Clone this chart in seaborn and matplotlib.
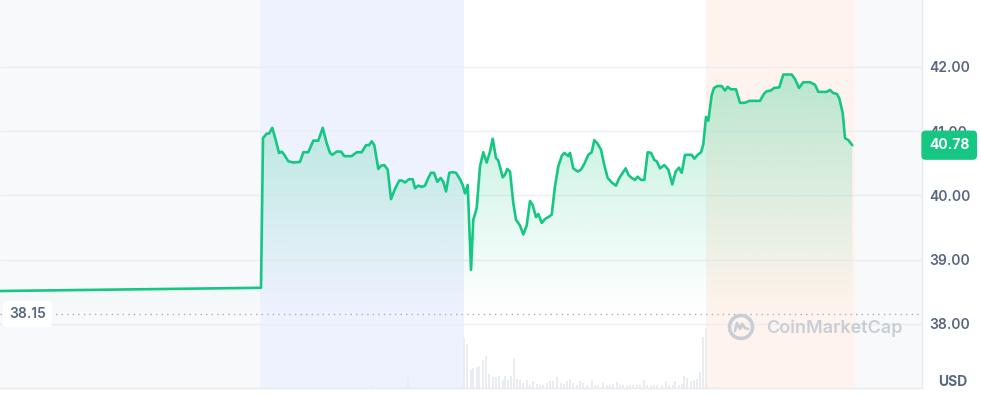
import numpy as np
import matplotlib
matplotlib.use("Agg")
import matplotlib.pyplot as plt
import matplotlib.colors as mcolors
import matplotlib.transforms as mtransforms
from matplotlib.patches import Circle
from matplotlib.lines import Line2D
import seaborn as sns

# ---------------- data ----------------
t = [0, 261, 263, 266.7, 269, 272.3, 275.7, 279, 281.7, 284.3,
     288.3, 293.3, 300, 303.3, 308.3, 313.3, 318.3, 322.7, 326.7, 330,
     332.3, 336.7, 341, 344.3, 351.7, 356.7, 361.7, 366, 369, 371.7,
     374.3, 378.3, 381, 384.3, 387.7, 391, 395, 399.3, 401.7, 405,
     409, 412.7, 415, 418.3, 421.7, 425, 428.3, 431, 434, 437.3,
     440.7, 443.3, 446, 449.3, 452.7, 456, 460, 462.7, 465, 467.7,
     471, 473.3, 476.7, 480, 483.3, 486.7, 490, 492.7, 496, 498.3,
     502.7, 505, 507.3, 510, 513.3, 516, 520, 523.3, 526.7, 530,
     532.7, 536, 538.3, 541.7, 545, 549.3, 551.7, 555, 558.3, 561.7,
     564.3, 566.7, 568.3, 570, 573.3, 577.7, 581, 584.3, 588.3, 591.7,
     594.3, 597.7, 601, 604.3, 607.7, 611.7, 616, 619.3, 622.7, 625.7,
     628.3, 631.7, 635, 637.7, 641, 644.3, 647.7, 651, 654.3, 656.7,
     660, 664.3, 668.3, 672.3, 675.7, 679, 681.7, 685, 689, 691.7,
     694.3, 697.7, 701, 703.3, 706, 708.3, 711.7, 714, 717.3, 721.7,
     725, 727.7, 730.7, 736, 740, 745, 749.3, 760, 764, 766.7,
     770.7, 774, 779.3, 783.3, 791.7, 795, 799, 803.3, 810, 815,
     818.3, 826.7, 830, 833.3, 836.7, 839.3, 842.7, 845, 848.3, 852.3]

price = [38.51, 38.56, 40.89, 40.96, 40.96, 41.05, 40.86, 40.66, 40.68, 40.63,
         40.53, 40.51, 40.52, 40.67, 40.67, 40.85, 40.85, 41.05, 40.81, 40.66,
         40.63, 40.68, 40.68, 40.61, 40.61, 40.67, 40.67, 40.78, 40.78, 40.84,
         40.78, 40.41, 40.46, 40.47, 40.40, 39.94, 40.10, 40.23, 40.23, 40.20,
         40.25, 40.25, 40.11, 40.15, 40.13, 40.15, 40.27, 40.35, 40.35, 40.21,
         40.27, 40.21, 40.06, 40.35, 40.36, 40.35, 40.25, 40.16, 40.03, 40.16,
         38.84, 39.62, 39.80, 40.45, 40.67, 40.51, 40.68, 40.88, 40.58, 40.54,
         40.28, 40.32, 40.41, 40.37, 39.88, 39.62, 39.53, 39.39, 39.53, 39.91,
         39.85, 39.66, 39.71, 39.57, 39.63, 39.67, 39.70, 40.14, 40.45, 40.61,
         40.66, 40.63, 40.61, 40.66, 40.42, 40.37, 40.40, 40.49, 40.63, 40.67,
         40.86, 40.80, 40.71, 40.47, 40.27, 40.20, 40.15, 40.27, 40.35, 40.42,
         40.32, 40.27, 40.24, 40.29, 40.24, 40.24, 40.67, 40.66, 40.55, 40.53,
         40.42, 40.47, 40.40, 40.17, 40.37, 40.43, 40.35, 40.63, 40.63, 40.63,
         40.57, 40.63, 40.67, 40.79, 41.22, 41.16, 41.56, 41.67, 41.70, 41.70,
         41.63, 41.69, 41.65, 41.65, 41.44, 41.44, 41.47, 41.47, 41.58, 41.62,
         41.63, 41.67, 41.68, 41.88, 41.88, 41.81, 41.67, 41.76, 41.76, 41.72,
         41.61, 41.61, 41.64, 41.59, 41.58, 41.51, 41.28, 40.89, 40.86, 40.78]

vol_t = [372, 408, 440,
         464, 467.3, 470.7, 473.3, 476.7, 479.3, 482.7, 486, 489.3, 492.7,
         496, 499.3, 502.7, 505.3, 508.3, 511, 514, 516.7, 520, 523.3,
         526.7, 530, 533.3, 536.7, 540, 543.3, 546.7, 550, 553.3, 557.3,
         560.7, 564, 566.7, 570, 573.3, 576.7, 580, 583.3, 586.7, 591.7,
         595, 598.3, 603.3, 606.7, 610, 613.3, 616.7, 620, 623.3, 626.7,
         630, 633.3, 636.7, 640, 644, 647.3, 650.7, 654, 657.3, 661.7,
         666, 669.3, 672.7, 675.3, 678.7, 681.7, 684.3, 687.3, 690.7, 694,
         697.3, 700, 702.7, 706]
volume = [2, 10, 2,
          50, 44, 18, 20, 21, 22, 28, 32, 14, 11,
          11, 12, 8, 12, 8, 12, 30, 9, 8, 5,
          8, 3, 7, 4, 3, 3, 5, 7, 7, 11,
          5, 4, 7, 9, 5, 3, 7, 5, 3, 8,
          3, 3, 6, 3, 3, 4, 6, 3, 3, 3,
          3, 3, 3, 3, 8, 3, 3, 3, 3, 3,
          7, 3, 3, 7, 3, 4, 12, 10, 7, 8,
          9, 16, 51, 60]

session_edges = [0, 260, 464, 706, 855, 922]
session_colors = ["#f8f9fb", "#eef2fe", "#ffffff", "#fff4ed", "#f8f9fb"]
yticks = [38, 39, 40, 41, 42]
ytick_labels = ["38.00", "39.00", "40.00", "41.00", "42.00"]
last_price = 40.78
ref_price = 38.15
unit_label = "USD"
watermark = "CoinMarketCap"

# ---------------- style ----------------
sns.set_theme(style="white")
plt.rcParams["font.family"] = ["Inter", "DejaVu Sans"]

GREEN = "#16c784"
LABEL = "#58667e"

W, H = 981, 395
fig = plt.figure(figsize=(W / 100, H / 100), dpi=100)
rect = [0, 1 - 388 / H, 922 / W, 388 / H]

# volume / session background axes
ax_vol = fig.add_axes(rect)
ax_vol.set_axis_off()
for i, c in enumerate(session_colors):
    ax_vol.axvspan(session_edges[i], session_edges[i + 1], color=c, lw=0, zorder=0)
ax_vol.bar(vol_t, volume, width=2.3, color="#e9ecf0", lw=0, zorder=1)
ax_vol.set_xlim(0, 922)
ax_vol.set_ylim(0, 388)

# price axes
ax = fig.add_axes(rect, sharex=ax_vol)
ax.patch.set_alpha(0)
ymin, ymax = 37.0, 43.04

for yv in yticks:
    ax.axhline(yv, color="#eceef2", lw=1, zorder=1)

# gradient fill under the line (fades out just above the reference line)
top = max(price)
fade_bottom = 38.1
n = 256
grad = np.zeros((n, 1, 4))
grad[..., :3] = mcolors.to_rgb(GREEN)
grad[:, 0, 3] = 0.30 * np.linspace(0, 1, n) ** 1.1
im = ax.imshow(grad, aspect="auto", extent=[0, 922, fade_bottom, top],
               origin="lower", zorder=2, interpolation="bilinear")
poly = ax.fill_between(t, price, ymin, facecolor="none", edgecolor="none")
im.set_clip_path(poly.get_paths()[0], transform=ax.transData)

sns.lineplot(x=t, y=price, ax=ax, color=GREEN, lw=1.9, sort=False,
             estimator=None, zorder=5)

# reference dotted line
ax.axhline(ref_price, color="#a6acbb", lw=1.0, ls=(0, (1, 3)), zorder=4)
blend = mtransforms.blended_transform_factory(ax.transAxes, ax.transData)
ax.text(9 / 922, ref_price, f"{ref_price:.2f}", transform=blend, ha="left",
        va="center", fontsize=10, fontweight="semibold", color=LABEL, zorder=6,
        bbox=dict(boxstyle="round,pad=0.45,rounding_size=0.35", fc="white",
                  ec="none"))

ax.set_xlim(0, 922)
ax.set_ylim(ymin, ymax)
ax.set_xticks([])
ax.set_xlabel("")
ax.set_ylabel("")
ax.yaxis.tick_right()
ax.set_yticks(yticks)
ax.set_yticklabels(ytick_labels)
ax.tick_params(axis="y", length=0, pad=5, labelsize=10, labelcolor=LABEL)
for lab in ax.get_yticklabels():
    lab.set_fontweight("semibold")
for s in ["top", "left"]:
    ax.spines[s].set_visible(False)
for s in ["right", "bottom"]:
    ax.spines[s].set_color("#e8eaee")
    ax.spines[s].set_linewidth(1)

# last price badge
ax.text(929 / 922, last_price, f"{last_price:.2f}", transform=blend,
        ha="left", va="center", fontsize=10, fontweight="bold", color="white",
        zorder=20, clip_on=False,
        bbox=dict(boxstyle="round,pad=0.55,rounding_size=0.3", fc=GREEN,
                  ec="none"))

# unit label
fig.text(967 / W, 1 - 382 / H, unit_label, ha="right", va="center",
         fontsize=10, fontweight="bold", color=LABEL)

# watermark
wm_color = "#c9ced6"
ident = mtransforms.IdentityTransform()
cx, cy = 741, H - 327
fig.add_artist(Circle((cx, cy), 11.5, transform=ident, fill=False,
                      ec=wm_color, lw=2.6))
fig.add_artist(Line2D([cx - 6, cx - 4, cx - 1, cx + 1, cx + 4, cx + 7],
                      [cy - 4, cy + 4, cy - 2, cy + 3, cy - 1, cy - 2],
                      transform=ident, color=wm_color, lw=2))
fig.text(766 / W, 1 - 328 / H, watermark, ha="left", va="center",
         fontsize=13, fontweight="semibold", color=wm_color)

fig.savefig("out.png", dpi=100)
